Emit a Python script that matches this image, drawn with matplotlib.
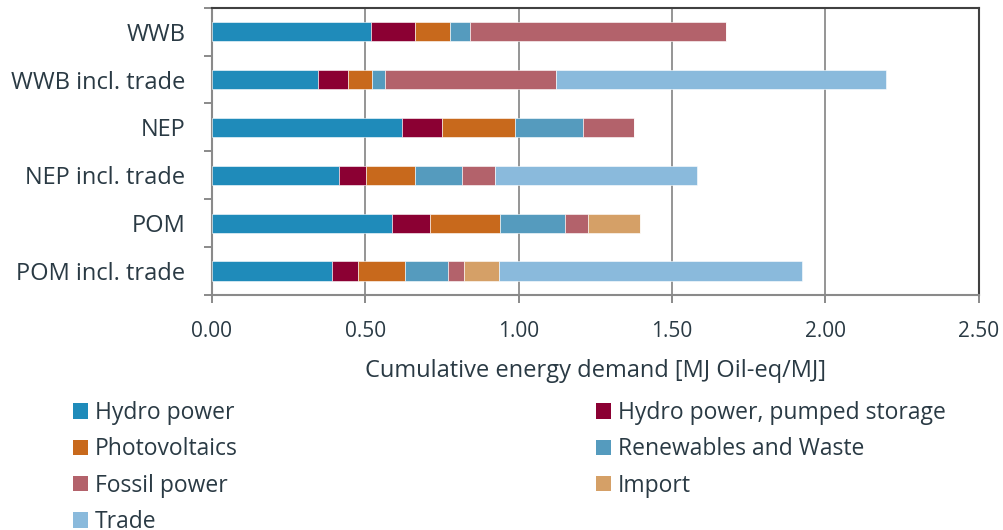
import matplotlib.pyplot as plt
from matplotlib.patches import Patch

plt.rcParams['font.family'] = ['Open Sans', 'DejaVu Sans']

# categories, top to bottom
scenarios = ['WWB', 'WWB incl. trade', 'NEP', 'NEP incl. trade', 'POM', 'POM incl. trade']

# MJ oil-eq / MJ per source
hydro = [0.518, 0.347, 0.619, 0.415, 0.586, 0.393]
pumped = [0.144, 0.098, 0.131, 0.088, 0.125, 0.084]
pv = [0.115, 0.077, 0.239, 0.160, 0.229, 0.153]
renew = [0.064, 0.042, 0.222, 0.152, 0.210, 0.141]
fossil = [0.834, 0.559, 0.165, 0.109, 0.077, 0.051]
imports = [0.0, 0.0, 0.0, 0.0, 0.169, 0.114]
trade = [0.0, 1.073, 0.0, 0.656, 0.0, 0.987]

series = [
    ('Hydro power', hydro, '#1f8bba'),
    ('Hydro power, pumped storage', pumped, '#8b0033'),
    ('Photovoltaics', pv, '#c8691c'),
    ('Renewables and Waste', renew, '#559bbe'),
    ('Fossil power', fossil, '#b3626b'),
    ('Import', imports, '#d5a067'),
    ('Trade', trade, '#8abadc'),
]

txt = '#2a3a44'

fig = plt.figure(figsize=(10.04, 5.30), dpi=100)
ax = fig.add_axes([0.2109, 0.4434, 0.975 - 0.2109, 0.9855 - 0.4434])

ypos = list(range(len(scenarios)))
left = [0.0] * len(scenarios)
handles = {}
for name, vals, col in series:
    ax.barh(ypos, vals, left=left, height=0.4, color=col,
            edgecolor='white', linewidth=0.4, zorder=3)
    left = [a + b for a, b in zip(left, vals)]
    handles[name] = Patch(facecolor=col, edgecolor='none')

ax.set_xlim(0, 2.5)
ax.set_ylim(5.5, -0.5)
ax.set_xticks([0, 0.5, 1.0, 1.5, 2.0, 2.5])
ax.set_xticklabels(['0.00', '0.50', '1.00', '1.50', '2.00', '2.50'])
ax.set_yticks(ypos)
ax.set_yticklabels(scenarios)
ax.set_yticks([i - 0.5 for i in range(len(scenarios) + 1)], minor=True)

ax.grid(axis='x', color='#959595', linewidth=1.4, zorder=0)
ax.tick_params(axis='y', which='major', length=0, pad=19, labelsize=17, labelcolor=txt)
ax.tick_params(axis='y', which='minor', length=5.8, width=1.4, color='#8a8a8a')
ax.tick_params(axis='x', length=5.8, width=1.4, color='#8a8a8a', pad=13,
               labelsize=15, labelcolor=txt)

for s in ['left', 'bottom']:
    ax.spines[s].set_color('#8a8a8a')
    ax.spines[s].set_linewidth(1.5)
for s in ['top', 'right']:
    ax.spines[s].set_color('#404040')
    ax.spines[s].set_linewidth(1.5)

ax.set_xlabel('Cumulative energy demand [MJ Oil-eq/MJ]', fontsize=17,
              color=txt, labelpad=12)

col1 = ['Hydro power', 'Photovoltaics', 'Fossil power', 'Trade']
col2 = ['Hydro power, pumped storage', 'Renewables and Waste', 'Import']
kw = dict(loc='upper left', frameon=False, fontsize=16.5, labelcolor=txt,
          handlelength=0.65, handleheight=0.65, handletextpad=0.31,
          labelspacing=0.54, borderpad=0, borderaxespad=0)
fig.legend([handles[n] for n in col1], col1,
           bbox_to_anchor=(73 / 1004, 1 - 401 / 530), **kw)
fig.legend([handles[n] for n in col2], col2,
           bbox_to_anchor=(596 / 1004, 1 - 401 / 530), **kw)

fig.savefig('out.png', dpi=100)
